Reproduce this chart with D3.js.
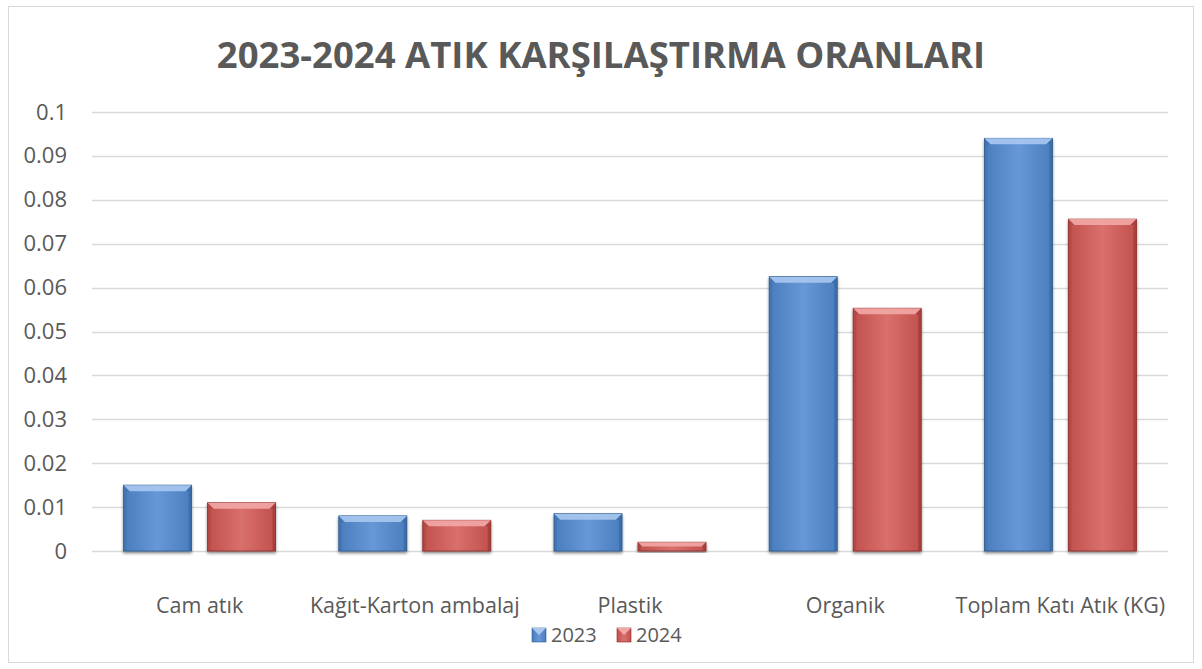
<!DOCTYPE html>
<html>
<head>
<meta charset="utf-8">
<script src="https://cdn.jsdelivr.net/npm/d3@7"></script>
<style>
  body { margin: 0; background: #fff; }
  svg { display: block; font-family: "Open Sans", "Liberation Sans", sans-serif; }
</style>
</head>
<body>
<div class="chart"></div>
<script>
var categories = ["Cam atık", "Kağıt-Karton ambalaj", "Plastik", "Organik", "Toplam Katı Atık (KG)"];
var series = ["2023", "2024"];
var values2023 = [0.015, 0.008, 0.0085, 0.0625, 0.094];
var values2024 = [0.011, 0.007, 0.002, 0.0553, 0.0756];
var yTicks = [0, 0.01, 0.02, 0.03, 0.04, 0.05, 0.06, 0.07, 0.08, 0.09, 0.1];

var W = 1202, H = 669;
var margin = {top: 112, right: 34, bottom: 118, left: 92};
var width = W - margin.left - margin.right,
    height = H - margin.top - margin.bottom;

var colors = {
  "2023": {base: "#4a7dbd", light: "#6797d6", dark: "#2c5a8f", top: "#a9c8f0"},
  "2024": {base: "#c0504d", light: "#d9706c", dark: "#8c2b28", top: "#f2a9a6"}
};

var svg = d3.select(".chart").append("svg")
    .attr("width", W)
    .attr("height", H);

var defs = svg.append("defs");

// gradients for the bevel look
series.forEach(function(s) {
  var g = defs.append("linearGradient")
      .attr("id", "grad" + s)
      .attr("x1", 0).attr("x2", 1).attr("y1", 0).attr("y2", 0);
  g.append("stop").attr("offset", "0%").attr("stop-color", colors[s].base);
  g.append("stop").attr("offset", "50%").attr("stop-color", colors[s].light);
  g.append("stop").attr("offset", "100%").attr("stop-color", colors[s].base);
});

var shadow = defs.append("filter")
    .attr("id", "shadow")
    .attr("x", "-20%").attr("y", "-20%")
    .attr("width", "140%").attr("height", "140%");
shadow.append("feGaussianBlur").attr("in", "SourceAlpha").attr("stdDeviation", 1.5).attr("result", "blur");
shadow.append("feOffset").attr("in", "blur").attr("dx", 0).attr("dy", 2).attr("result", "off");
shadow.append("feComponentTransfer").attr("in", "off").attr("result", "soft")
  .append("feFuncA").attr("type", "linear").attr("slope", 0.45);
var merge = shadow.append("feMerge");
merge.append("feMergeNode").attr("in", "soft");
merge.append("feMergeNode").attr("in", "SourceGraphic");

// outer frame
svg.append("rect")
    .attr("x", 8.5).attr("y", 6.5)
    .attr("width", 1185).attr("height", 656)
    .attr("fill", "#fff")
    .attr("stroke", "#d9d9d9");

svg.append("text")
    .attr("x", 601)
    .attr("y", 68)
    .attr("text-anchor", "middle")
    .attr("font-size", 36.5)
    .attr("font-weight", "bold")
    .attr("fill", "#595959")
    .text("2023-2024 ATIK KARŞILAŞTIRMA ORANLARI");

var g = svg.append("g")
    .attr("transform", "translate(" + margin.left + "," + margin.top + ")");

var x0 = d3.scaleBand().domain(categories).range([0, width]).paddingInner(0).paddingOuter(0);
var x1 = d3.scaleBand().domain(series).range([0, 152]).paddingInner(0.19);
var y = d3.scaleLinear().domain([0, 0.1]).range([height, 0]);

// grid
g.append("g")
  .selectAll("line")
  .data(yTicks)
  .enter().append("line")
    .attr("x1", 0).attr("x2", width)
    .attr("y1", function(d) { return Math.round(y(d)) + 0.5; })
    .attr("y2", function(d) { return Math.round(y(d)) + 0.5; })
    .attr("stroke", "#d9d9d9")
    .attr("stroke-width", 1.3);

// y axis labels
var yAxis = g.append("g")
    .call(d3.axisLeft(y).tickValues(yTicks).tickSize(0).tickPadding(25)
      .tickFormat(function(d) { return d === 0 ? "0" : d3.format("")(+d.toFixed(2)); }));
yAxis.select(".domain").remove();
yAxis.selectAll("text")
    .attr("font-size", 22)
    .attr("font-family", "Open Sans, sans-serif")
    .attr("fill", "#595959");

// bars
var rows = categories.map(function(c, i) {
  return [{cat: c, s: "2023", v: values2023[i]}, {cat: c, s: "2024", v: values2024[i]}];
});

var groups = g.selectAll(".grp")
  .data(rows)
  .enter().append("g")
    .attr("class", "grp")
    .attr("transform", function(d) {
      return "translate(" + (x0(d[0].cat) + (x0.bandwidth() - 152) / 2) + ",0)";
    });

var bars = groups.selectAll(".bar")
  .data(function(d) { return d; })
  .enter().append("g")
    .attr("class", "bar")
    .attr("filter", "url(#shadow)");

bars.append("rect")
    .attr("x", function(d) { return x1(d.s); })
    .attr("y", function(d) { return y(d.v); })
    .attr("width", x1.bandwidth())
    .attr("height", function(d) { return height - y(d.v); })
    .attr("fill", function(d) { return "url(#grad" + d.s + ")"; })
    .attr("stroke", function(d) { return colors[d.s].dark; })
    .attr("stroke-width", 0.8);

// bevel top
bars.append("path")
    .attr("d", function(d) {
      var xa = x1(d.s), xb = xa + x1.bandwidth(), yt = y(d.v);
      var b = Math.min(6, (height - yt) / 2);
      return "M" + xa + "," + yt + "L" + xb + "," + yt + "L" + (xb - b) + "," + (yt + b) +
             "L" + (xa + b) + "," + (yt + b) + "Z";
    })
    .attr("fill", function(d) { return colors[d.s].top; })
    .attr("opacity", 0.9);

// bevel sides
bars.append("path")
    .attr("d", function(d) {
      var xa = x1(d.s), xb = xa + x1.bandwidth(), yt = y(d.v);
      var b = Math.min(6, (height - yt) / 2);
      return "M" + xb + "," + yt + "L" + xb + "," + height + "L" + (xb - 3) + "," + height +
             "L" + (xb - 3) + "," + (yt + b) + "L" + (xb - b) + "," + (yt + b) + "Z";
    })
    .attr("fill", function(d) { return colors[d.s].dark; })
    .attr("opacity", 0.45);

bars.append("path")
    .attr("d", function(d) {
      var xa = x1(d.s), yt = y(d.v);
      var b = Math.min(6, (height - yt) / 2);
      return "M" + xa + "," + yt + "L" + xa + "," + height + "L" + (xa + 3) + "," + height +
             "L" + (xa + 3) + "," + (yt + b) + "L" + (xa + b) + "," + (yt + b) + "Z";
    })
    .attr("fill", function(d) { return colors[d.s].dark; })
    .attr("opacity", 0.25);

// category labels
var xAxis = g.append("g")
    .attr("transform", "translate(0," + height + ")")
    .call(d3.axisBottom(x0).tickSize(0).tickPadding(47));
xAxis.select(".domain").remove();
xAxis.selectAll("text")
    .attr("font-size", 21.5)
    .attr("font-family", "Open Sans, sans-serif")
    .attr("fill", "#595959");

// legend
var legend = svg.append("g").attr("transform", "translate(532,635)");
var li = legend.selectAll(".li")
  .data(series)
  .enter().append("g")
    .attr("transform", function(d, i) { return "translate(" + (i * 85) + ",0)"; });
li.append("rect")
    .attr("x", 0).attr("y", -7)
    .attr("width", 14).attr("height", 14)
    .attr("fill", function(d) { return "url(#grad" + d + ")"; })
    .attr("stroke", function(d) { return colors[d].dark; })
    .attr("stroke-width", 0.6);
li.append("path")
    .attr("d", "M0,-7L14,-7L7,0Z")
    .attr("fill", function(d) { return colors[d].top; });
li.append("text")
    .attr("x", 19)
    .attr("y", 7)
    .attr("font-size", 20)
    .attr("fill", "#595959")
    .text(function(d) { return d; });
</script>
</body>
</html>
